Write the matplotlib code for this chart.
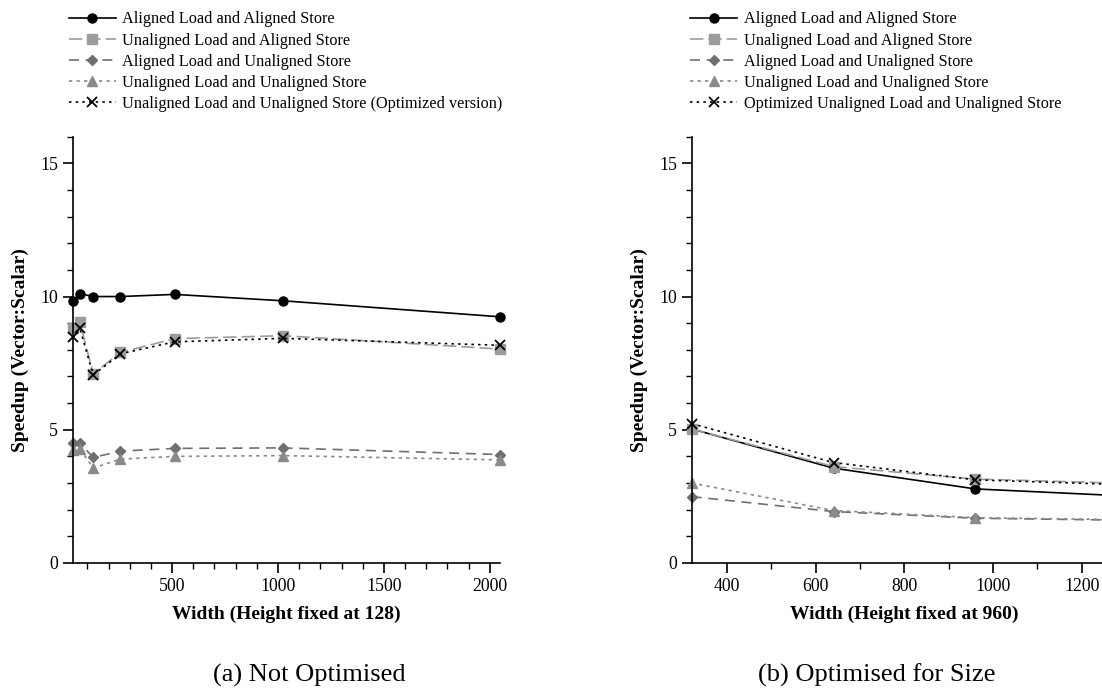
import matplotlib
matplotlib.use("Agg")
import matplotlib.pyplot as plt
from matplotlib.ticker import MultipleLocator

plt.rcParams["font.family"] = ["Liberation Serif", "DejaVu Serif"]

# (a) not optimised, height fixed at 128
widths_a = [32, 64, 128, 256, 512, 1024, 2048]
al_as_a = [9.82, 10.11, 10.0, 10.0, 10.08, 9.84, 9.24]
ul_as_a = [8.83, 9.05, 7.10, 7.90, 8.42, 8.53, 8.03]
al_us_a = [4.52, 4.50, 3.96, 4.20, 4.30, 4.32, 4.07]
ul_us_a = [4.25, 4.29, 3.56, 3.90, 4.00, 4.03, 3.87]
opt_a = [8.47, 8.81, 7.06, 7.85, 8.30, 8.43, 8.17]

# (b) optimised for size, height fixed at 960
widths_b = [320, 640, 960, 1280]
al_as_b = [5.03, 3.56, 2.78, 2.53]
ul_as_b = [5.03, 3.62, 3.15, 3.00]
al_us_b = [2.49, 1.93, 1.68, 1.61]
ul_us_b = [3.00, 1.97, 1.70, 1.63]
opt_b = [5.23, 3.77, 3.12, 2.95]

labels_a = ["Aligned Load and Aligned Store",
            "Unaligned Load and Aligned Store",
            "Aligned Load and Unaligned Store",
            "Unaligned Load and Unaligned Store",
            "Unaligned Load and Unaligned Store (Optimized version)"]
labels_b = labels_a[:4] + ["Optimized Unaligned Load and Unaligned Store"]

styles = [
    dict(color="black", ls="-", marker="o", ms=6.5, lw=1.2),
    dict(color="#9c9c9c", ls=(0, (8, 3)), marker="s", ms=6.5, lw=1.2),
    dict(color="#6f6f6f", ls=(0, (6, 4)), marker="D", ms=4.8, lw=1.2),
    dict(color="#8a8a8a", ls=(0, (2, 2.5)), marker="^", ms=6.5, lw=1.2),
    dict(color="black", ls=(0, (1.5, 2.5)), marker="x", ms=7, lw=1.2, mew=1.3),
]

fig = plt.figure(figsize=(11.02, 6.93), dpi=100)
ax_a = fig.add_axes([0.0662, 0.1876, 0.3875, 0.6152])
ax_b = fig.add_axes([0.6277, 0.1876, 0.3860, 0.6152])


def draw(ax, x, series, labels, xlim, xmajor, xminor, xlabel, legend_x):
    for y, lab, st in zip(series, labels, styles):
        ax.plot(x, y, label=lab, clip_on=False, **st)
    ax.set_xlim(*xlim)
    ax.set_ylim(0, 16)
    ax.xaxis.set_major_locator(MultipleLocator(xmajor))
    ax.xaxis.set_minor_locator(MultipleLocator(xminor))
    ax.yaxis.set_major_locator(MultipleLocator(5))
    ax.yaxis.set_minor_locator(MultipleLocator(1))
    for side in ("top", "right"):
        ax.spines[side].set_visible(False)
    for side in ("left", "bottom"):
        ax.spines[side].set_linewidth(1.2)
    ax.tick_params(which="major", direction="out", length=7, width=1.2,
                   labelsize=12.8)
    ax.tick_params(which="minor", direction="out", length=4, width=1.0)
    ax.set_xlabel(xlabel, fontsize=14, fontweight="bold", labelpad=8)
    ax.set_ylabel("Speedup (Vector:Scalar)", fontsize=14, fontweight="bold",
                  labelpad=8)
    ax.legend(loc="upper left", bbox_to_anchor=(legend_x, 1.0),
              bbox_transform=fig.transFigure, frameon=False, fontsize=11.7,
              handlelength=2.9, handletextpad=0.4, labelspacing=0.32,
              borderaxespad=0.3)


draw(ax_a, widths_a, [al_as_a, ul_as_a, al_us_a, ul_us_a, opt_a], labels_a,
     (32, 2048), 500, 100, "Width (Height fixed at 128)", 0.052)
draw(ax_b, widths_b, [al_as_b, ul_as_b, al_us_b, ul_us_b, opt_b], labels_b,
     (320, 1280), 200, 100, "Width (Height fixed at 960)", 0.616)

fig.text(0.281, 0.016, "(a) Not Optimised", fontsize=19, ha="center")
fig.text(0.796, 0.016, "(b) Optimised for Size", fontsize=19, ha="center")

fig.savefig("out.png", dpi=100)
plt.close(fig)
